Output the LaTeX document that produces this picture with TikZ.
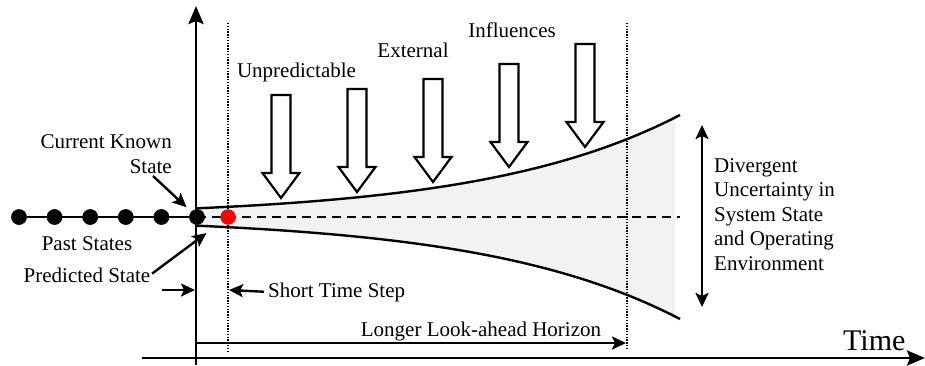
\documentclass[tikz,border=0pt]{standalone}
\usepackage{fontspec}
\setmainfont{Liberation Serif}
\usetikzlibrary{arrows.meta}

\definecolor{funnelgray}{RGB}{242,242,242}

\tikzset{
  lbl/.style={inner sep=0pt, font=\fontsize{21}{24.5}\selectfont},
  axis/.style={line width=2.8pt, -{Stealth[length=18pt,width=15pt,inset=3pt]}},
  pointer/.style={line width=2.4pt, -{Stealth[length=14pt,width=13pt,inset=3pt]}},
  twoway/.style={line width=2.4pt, {Stealth[length=14pt,width=13pt,inset=3pt]}-{Stealth[length=14pt,width=13pt,inset=3pt]}},
  guide/.style={line width=1.3pt, dash pattern=on 1.4pt off 1.4pt},
  bound/.style={line width=2.4pt},
  state/.style={circle, fill=black, inner sep=0pt, minimum size=15.5pt},
  predicted/.style={circle, fill=red, inner sep=0pt, minimum size=15.5pt},
  blockarrow/.pic={
    \draw[line width=2.2pt, fill=white]
      (-9.5,-103) -- (9.5,-103) -- (9.5,-25) -- (18.5,-25) -- (0,0)
      -- (-18.5,-25) -- (-9.5,-25) -- cycle;
  }
}

\begin{document}
\begin{tikzpicture}[x=1pt, y=-1pt]
\useasboundingbox (0,0) rectangle (925,365);

% uncertainty funnel
\fill[funnelgray]
  plot[domain=197:675, samples=80] (\x, {217-102*exp(-0.0051*(680-\x))})
  -- plot[domain=675:197, samples=80] (\x, {217+102*exp(-0.0051*(680-\x))})
  -- cycle;
\draw[bound] plot[domain=197:680, samples=80] (\x, {217-102*exp(-0.0051*(680-\x))});
\draw[bound] plot[domain=197:680, samples=80] (\x, {217+102*exp(-0.0051*(680-\x))});

% predicted trajectory
\coordinate (trajEnd) at (680,217);

% guide lines: short step and look-ahead horizon
\coordinate (stepTop) at (228,23);
\coordinate (stepBot) at (228,353);
\coordinate (horTop) at (627,23);
\coordinate (horBot) at (627,350);
\draw[guide] (stepTop) -- (stepBot);
\draw[guide] (horTop) -- (horBot);

% axes
\coordinate (vBot) at (196,365);
\coordinate (vTop) at (196,6);
\coordinate (tStart) at (142,358);
\coordinate (tEnd) at (925,358);
\draw[axis] (vBot) -- (vTop);
\draw[axis] (tStart) -- (tEnd);

% past and current states
\foreach \i in {0,...,5} {
  \node[state] (s\i) at ({19+35.6*\i},217) {};
}
\draw[line width=2.8pt] (s0) -- (s5);
\draw[line width=2.6pt, dash pattern=on 9pt off 6pt] (s5.center) -- (trajEnd);
\foreach \i in {0,...,5} {
  \node[state] at (s\i) {};
}
\node[predicted] (pred) at (228,217) {};

% external influences
\pic at (281,198) {blockarrow};
\pic at (357,192) {blockarrow};
\pic at (433,182) {blockarrow};
\pic at (509,167) {blockarrow};
\pic at (585,147) {blockarrow};
\node[lbl, anchor=base] (unp) at (296.5,77) {Unpredictable};
\node[lbl, anchor=base] (ext) at (413,57) {External};
\node[lbl, anchor=base] (inf) at (512,37) {Influences};

% labels on the left
\node[lbl, anchor=base east, align=right] (ck) at (172,173) {Current Known\\State};
\coordinate (ckTail) at (153,176);
\draw[pointer, shorten >=6.5pt] (ckTail) -- (s5);

\node[lbl, anchor=base] (past) at (87,250) {Past States};
\node[lbl, anchor=base] (predl) at (87,282) {Predicted State};
\draw[pointer, shorten <=2pt, shorten >=19pt] (predl.east) -- (pred);

% short time step
\coordinate (stepTail) at (162,290);
\coordinate (axisAtStep) at (195,290);
\coordinate (guideAtStep) at (229,290);
\node[lbl, anchor=base west] (sts) at (268,297) {Short Time Step};
\draw[pointer] (stepTail) -- (axisAtStep);
\draw[pointer, shorten <=4pt] (sts.west) -- (guideAtStep);

% look-ahead horizon
\coordinate (horStart) at (197,343);
\coordinate (horEnd) at (626,343);
\draw[pointer] (horStart) -- (horEnd);
\node[lbl, anchor=base] (lah) at (481,336) {Longer Look-ahead Horizon};

% spread of uncertainty
\coordinate (spreadTop) at (702,125);
\coordinate (spreadBot) at (702,307);
\draw[twoway] (spreadTop) -- (spreadBot);
\node[lbl, anchor=base west, align=left] (div) at (714,270)
  {Divergent\\Uncertainty in\\System State\\and Operating\\Environment};

% time axis label
\node[inner sep=0pt, anchor=base west, font=\fontsize{30}{30}\selectfont] (time) at (843,350) {Time};
\end{tikzpicture}
\end{document}
